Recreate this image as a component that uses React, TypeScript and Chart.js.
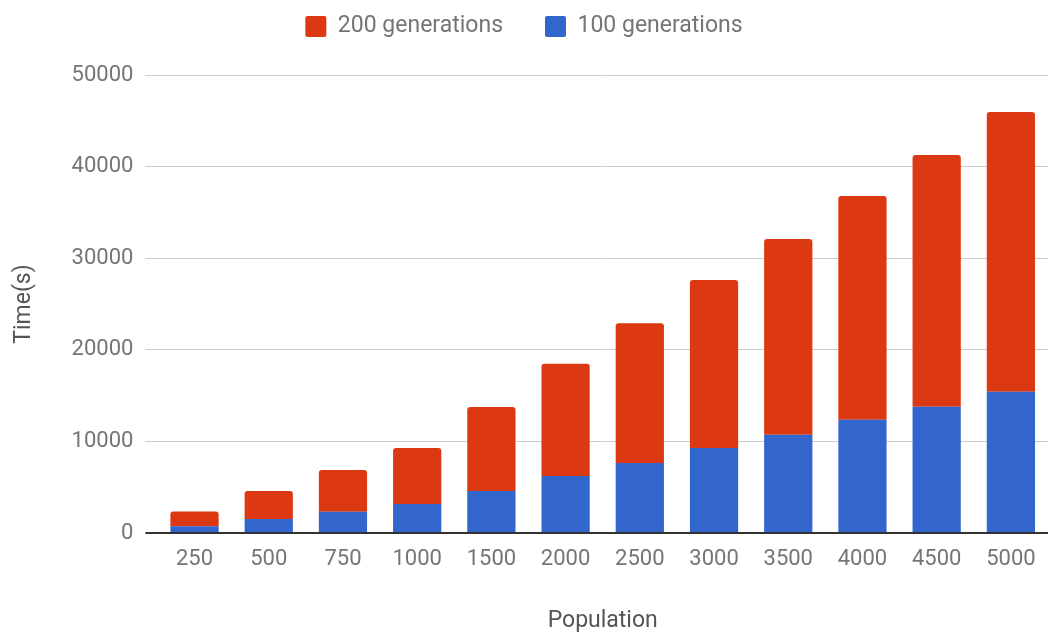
import React, { useEffect, useRef } from "react";
import { Chart, registerables } from "chart.js";

Chart.register(...registerables);

const categories = ["250", "500", "750", "1000", "1500", "2000", "2500", "3000", "3500", "4000", "4500", "5000"];
const gen100 = [730, 1530, 2330, 3160, 4580, 6220, 7640, 9270, 10730, 12360, 13780, 15420];
const gen200 = [1630, 3050, 4540, 6110, 9170, 12250, 15270, 18360, 21370, 24440, 27490, 30540];
const yTicks = [0, 10000, 20000, 30000, 40000, 50000];

const FONT = "Roboto";

export default function App() {
  const ref = useRef<HTMLCanvasElement | null>(null);
  useEffect(() => {
    if (!ref.current) return;
    const chart = new Chart(ref.current, {
      type: "bar",
      data: {
        labels: categories,
        datasets: [
          {
            label: "100 generations",
            data: gen100,
            xAxisID: "x",
            yAxisID: "y",
            backgroundColor: "#3366CC",
            borderWidth: 0,
            borderRadius: 0,
          },
          {
            label: "200 generations",
            data: gen200,
            xAxisID: "x",
            yAxisID: "y",
            backgroundColor: "#DC3912",
            borderWidth: 0,
            borderRadius: { topLeft: 3, topRight: 3, bottomLeft: 0, bottomRight: 0 },
            borderSkipped: "start",
          },
        ],
      },
      options: {
        animation: false,
        responsive: true,
        maintainAspectRatio: false,
        layout: { padding: { left: 0, right: 3, top: -27, bottom: -2 } },
        datasets: { bar: { categoryPercentage: 1, barPercentage: 0.65 } },
        plugins: {
          tooltip: { enabled: false },
          legend: {
            position: "top",
            reverse: true,
            labels: {
              boxWidth: 21,
              boxHeight: 21,
              padding: 42,
              color: "#757575",
              font: { family: FONT, size: 23 },
              generateLabels: (c: any) => {
                const items = Chart.defaults.plugins.legend.labels.generateLabels(c);
                return items.map((it: any) => ({ ...it, borderRadius: 2, lineWidth: 0 }));
              },
              useBorderRadius: true,
            },
          },
        },
        scales: {
          x: {
            stacked: true,
            grid: { display: false, drawTicks: false },
            border: { display: false },
            ticks: { color: "#757575", font: { family: FONT, size: 22 }, padding: 13 },
            title: {
              display: true,
              text: "Population",
              color: "#555555",
              font: { family: FONT, size: 23 },
              padding: { top: 22, bottom: 0 },
            },
          },
          y: {
            stacked: true,
            min: 0,
            max: 50000,
            afterBuildTicks: (s: any) => {
              s.ticks = yTicks.map((v) => ({ value: v }));
            },
            grid: {
              color: (ctx: any) => (ctx.tick && ctx.tick.value === 0 ? "#333333" : "#cccccc"),
              lineWidth: (ctx: any) => (ctx.tick && ctx.tick.value === 0 ? 2 : 1),
              drawTicks: true,
              tickLength: 12,
            },
            border: { display: false },
            ticks: {
              color: "#757575",
              font: { family: FONT, size: 22 },
              padding: 12,
              callback: (v: any) => String(v),
            },
            title: {
              display: true,
              text: "Time(s)",
              color: "#555555",
              font: { family: FONT, size: 23 },
              padding: { top: 10, bottom: 22 },
            },
          },
          xTop: {
            type: "category",
            position: "top",
            display: true,
            grid: { display: false, drawTicks: false },
            border: { display: false },
            ticks: { display: false },
            afterFit: (s: any) => {
              s.height = 27;
            },
          },
        },
      },
    });
    return () => chart.destroy();
  }, []);
  return (
    <div style={{ position: "absolute", left: 0, top: 0, width: 1051, height: 633 }}>
      <canvas ref={ref} />
    </div>
  );
}
